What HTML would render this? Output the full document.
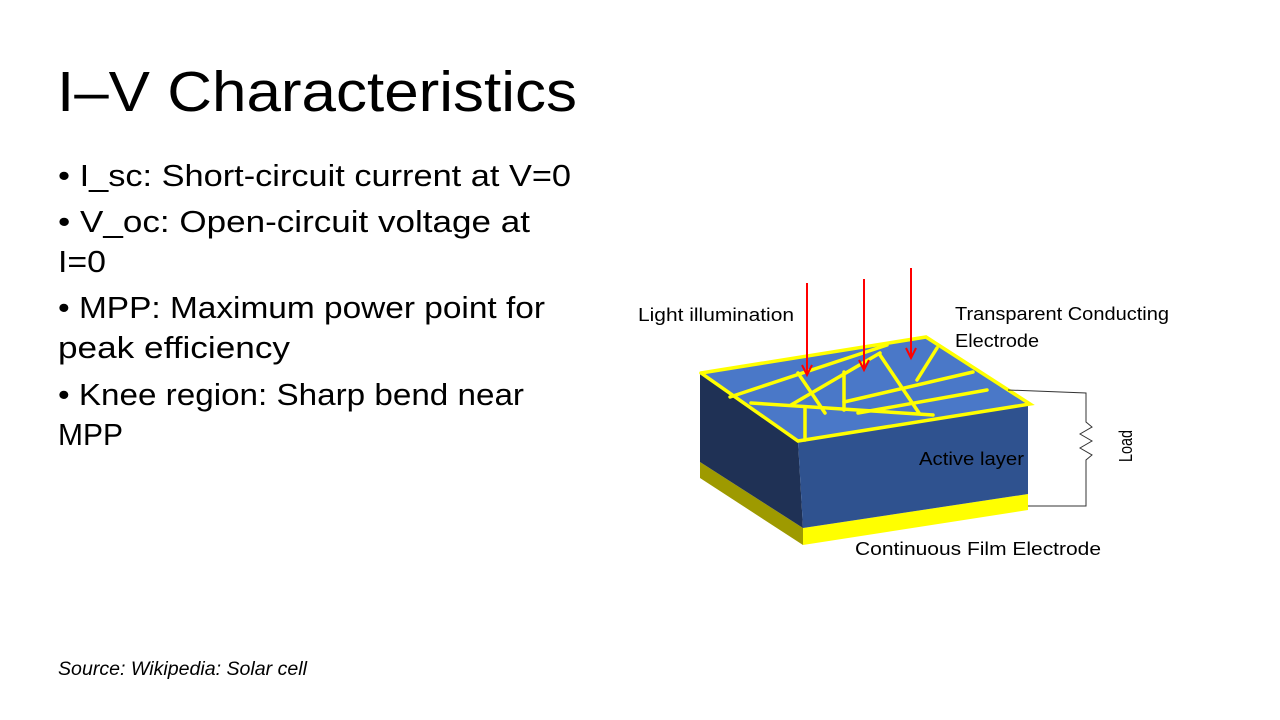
<!DOCTYPE html>
<html><head><meta charset="utf-8"><style>
html,body{margin:0;padding:0;background:#fff;}
svg{display:block;}
text{font-family:"Liberation Sans",sans-serif;fill:#000;}
</style></head><body>
<svg width="1280" height="720" viewBox="0 0 1280 720" xmlns="http://www.w3.org/2000/svg">
<rect width="1280" height="720" fill="#fff"/>
<text x="57" y="111" font-size="57" textLength="520" lengthAdjust="spacingAndGlyphs">I–V Characteristics</text>
<g font-size="31">
<text x="58" y="186" textLength="513" lengthAdjust="spacingAndGlyphs">• I_sc: Short-circuit current at V=0</text>
<text x="58" y="232" textLength="472" lengthAdjust="spacingAndGlyphs">• V_oc: Open-circuit voltage at</text>
<text x="58" y="272" textLength="48" lengthAdjust="spacingAndGlyphs">I=0</text>
<text x="58" y="318" textLength="487" lengthAdjust="spacingAndGlyphs">• MPP: Maximum power point for</text>
<text x="58" y="358" textLength="232" lengthAdjust="spacingAndGlyphs">peak efficiency</text>
<text x="58" y="405" textLength="466" lengthAdjust="spacingAndGlyphs">• Knee region: Sharp bend near</text>
<text x="58" y="445" textLength="65" lengthAdjust="spacingAndGlyphs">MPP</text>
</g>
<text x="58" y="675" font-size="19" font-style="italic" textLength="249" lengthAdjust="spacingAndGlyphs">Source: Wikipedia: Solar cell</text>

<!-- box -->
<polygon points="700,462 803,528 803,545 700,478" fill="#9e9a00"/>
<polygon points="803,528 1028,494 1028,510 803,545" fill="#ffff00"/>
<polygon points="700,374 798,441 803,528 700,462" fill="#1f3155"/>
<polygon points="798,441 1028,404 1028,494 803,528" fill="#2f528f"/>
<polygon points="701,373 926,337 1030,404 798,441" fill="#4a78c8"/>
<g stroke="#ffff00" stroke-width="3.5" fill="none" stroke-linecap="round">
<polyline points="701,373 926,337 1030,404 798,441 701,373"/>
<line x1="730" y1="397" x2="887" y2="345"/>
<line x1="798" y1="373" x2="825" y2="413"/>
<line x1="751" y1="403" x2="933" y2="415"/>
<line x1="791" y1="405" x2="880" y2="353"/>
<line x1="844" y1="372" x2="844" y2="410"/>
<line x1="880" y1="355" x2="919" y2="413"/>
<line x1="937" y1="348" x2="917" y2="380"/>
<line x1="844" y1="402" x2="973" y2="372"/>
<line x1="858" y1="413" x2="987" y2="390"/>
<line x1="805" y1="408" x2="805" y2="440"/>
</g>
<!-- arrows -->
<g stroke="#ff0000" stroke-width="2" fill="none">
<line x1="807" y1="283" x2="807" y2="375"/><polyline points="802,365 807,375 812,365"/>
<line x1="864" y1="279" x2="864" y2="370"/><polyline points="859,360 864,370 869,360"/>
<line x1="911" y1="268" x2="911" y2="358"/><polyline points="906,348 911,358 916,348"/>
</g>
<!-- load -->
<g stroke="#333" stroke-width="1" fill="none">
<polyline points="1008,390 1086,393 1086,422 1092,427 1080,434 1092,441 1080,448 1092,455 1086,460 1086,506 1028,506"/>
</g>
<g font-size="18">
<text x="638" y="321" textLength="156" lengthAdjust="spacingAndGlyphs">Light illumination</text>
<text x="955" y="320" textLength="214" lengthAdjust="spacingAndGlyphs">Transparent Conducting</text>
<text x="955" y="347" textLength="84" lengthAdjust="spacingAndGlyphs">Electrode</text>
<text x="919" y="465" fill="#111" textLength="105" lengthAdjust="spacingAndGlyphs">Active layer</text>
<text x="855" y="555" textLength="246" lengthAdjust="spacingAndGlyphs">Continuous  Film  Electrode</text>
<text transform="translate(1132,462) rotate(-90)" textLength="32" lengthAdjust="spacingAndGlyphs">Load</text>
</g>
</svg>
</body></html>
